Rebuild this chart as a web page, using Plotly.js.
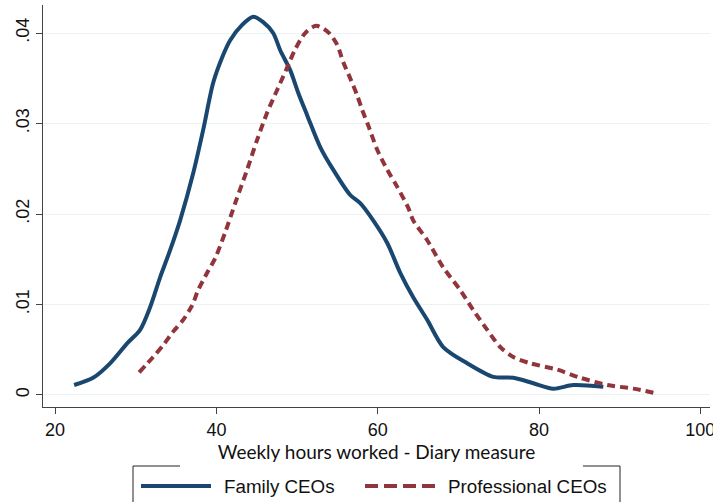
<!DOCTYPE html>
<html>
<head>
<meta charset="utf-8">
<script src="https://cdn.plot.ly/plotly-3.0.1.min.js"></script>
<style>html,body{margin:0;padding:0;background:#fff;}#chart{width:713px;height:502px;}</style>
</head>
<body>
<div id="chart"></div>
<script>
// Kernel density of weekly hours worked (diary measure)
const familyHours = [22.36, 24.71, 26.82, 28.93, 30.54, 31.78, 33.02, 34.26, 35.50, 37.12, 38.36, 39.60, 40.71, 41.71, 43.19, 44.56, 45.80, 47.04, 47.91, 49.15, 50.14, 51.26, 52.87, 54.48, 56.59, 57.83, 59.44, 61.18, 62.79, 64.40, 66.14, 68.12, 71.10, 74.33, 76.81, 79.29, 81.77, 84.25, 87.97];
const familyDensity = [0.0011, 0.0019, 0.0035, 0.0057, 0.0072, 0.0097, 0.0130, 0.0160, 0.0193, 0.0245, 0.0293, 0.0345, 0.0373, 0.0392, 0.0409, 0.0418, 0.0412, 0.0400, 0.0381, 0.0359, 0.0334, 0.0309, 0.0274, 0.0249, 0.0221, 0.0212, 0.0193, 0.0168, 0.0135, 0.0108, 0.0083, 0.0053, 0.0035, 0.0020, 0.0019, 0.0013, 0.0007, 0.0011, 0.0009];

const profHours = [30.42, 32.16, 33.40, 34.64, 35.88, 36.99, 37.74, 38.85, 39.84, 41.10, 42.33, 43.81, 45.05, 46.29, 47.53, 48.78, 49.77, 51.01, 52.37, 53.86, 54.98, 55.72, 56.59, 57.46, 58.08, 58.82, 59.94, 61.18, 62.42, 63.78, 64.40, 66.14, 68.12, 70.23, 71.84, 73.58, 75.19, 76.81, 78.91, 82.26, 85.12, 88.47, 91.69, 94.42];
const profDensity = [0.0025, 0.0042, 0.0055, 0.0070, 0.0083, 0.0099, 0.0116, 0.0135, 0.0151, 0.0180, 0.0212, 0.0249, 0.0282, 0.0312, 0.0337, 0.0362, 0.0382, 0.0400, 0.0408, 0.0401, 0.0387, 0.0368, 0.0350, 0.0331, 0.0315, 0.0298, 0.0271, 0.0249, 0.0230, 0.0207, 0.0193, 0.0171, 0.0141, 0.0116, 0.0094, 0.0072, 0.0053, 0.0042, 0.0035, 0.0028, 0.0019, 0.0011, 0.0007, 0.0002];

const xTickVals = [20, 40, 60, 80, 100];
const yTickVals = [0, 0.01, 0.02, 0.03, 0.04];
const yTickText = ["0", ".01", ".02", ".03", ".04"];
const seriesNames = ["Family CEOs", "Professional CEOs"];
const xTitle = "Weekly hours worked - Diary measure";

const blue = "#1a476f";
const red = "#90353b";

const traces = [
  {x: familyHours, y: familyDensity, type: "scatter", mode: "lines", name: seriesNames[0],
   line: {color: blue, width: 4, shape: "spline", smoothing: 0.8}},
  {x: profHours, y: profDensity, type: "scatter", mode: "lines", name: seriesNames[1],
   line: {color: red, width: 4, dash: "8px,5px", shape: "spline", smoothing: 0.8}}
];

// pixel -> paper helpers for legend box (plot area 43..710 x 5..407)
const L = 43, R = 710, T = 5, B = 407;
const px = v => (v - L) / (R - L);
const py = v => (B - v) / (B - T);

const legendY = 486;
const shapes = [
  {type: "line", xref: "paper", yref: "paper", x0: px(133), x1: px(133), y0: py(466), y1: py(510), line: {color: "#222", width: 1}},
  {type: "line", xref: "paper", yref: "paper", x0: px(620), x1: px(620), y0: py(466), y1: py(510), line: {color: "#222", width: 1}},
  {type: "line", xref: "paper", yref: "paper", x0: px(133), x1: px(180), y0: py(466), y1: py(466), line: {color: "#222", width: 1}},
  {type: "line", xref: "paper", yref: "paper", x0: px(583), x1: px(620), y0: py(466), y1: py(466), line: {color: "#222", width: 1}},
  {type: "line", xref: "paper", yref: "paper", x0: px(141), x1: px(211), y0: py(legendY), y1: py(legendY), line: {color: blue, width: 4}},
  {type: "line", xref: "paper", yref: "paper", x0: px(365), x1: px(435), y0: py(legendY), y1: py(legendY), line: {color: red, width: 4, dash: "13px,6px"}}
];

const legFont = {family: "Liberation Sans, Arial, sans-serif", size: 18.8, color: "#111"};
const annotations = [
  {xref: "paper", yref: "paper", x: px(222), y: py(legendY), xanchor: "left", yanchor: "middle", text: seriesNames[0], showarrow: false, font: legFont},
  {xref: "paper", yref: "paper", x: px(446), y: py(legendY), xanchor: "left", yanchor: "middle", text: seriesNames[1], showarrow: false, font: legFont}
];

const tickFont = {family: "Liberation Sans, Arial, sans-serif", size: 18, color: "#111"};

const layout = {
  width: 713, height: 502,
  margin: {l: L, r: 713 - R, t: T, b: 502 - B},
  paper_bgcolor: "#fff", plot_bgcolor: "#fff",
  showlegend: false,
  xaxis: {
    range: [18.5, 101.2], tickvals: xTickVals, ticks: "outside", ticklen: 6, tickcolor: "#444",
    showline: true, linecolor: "#444", linewidth: 1, showgrid: false, zeroline: false,
    tickfont: tickFont, ticklabeloverflow: "allow",
    title: {text: xTitle, font: {family: "Lato, sans-serif", size: 19, color: "#111"}, standoff: 5}
  },
  yaxis: {
    range: [-0.00133, 0.0431], tickvals: yTickVals, ticktext: yTickText, tickangle: -90,
    ticks: "outside", ticklen: 6, tickcolor: "#444",
    showline: true, linecolor: "#444", linewidth: 1,
    showgrid: true, gridcolor: "#eaf2f3", gridwidth: 1, zeroline: false,
    tickfont: tickFont
  },
  shapes: shapes,
  annotations: annotations
};

Plotly.newPlot("chart", traces, layout, {displayModeBar: false, staticPlot: true});
</script>
</body>
</html>
